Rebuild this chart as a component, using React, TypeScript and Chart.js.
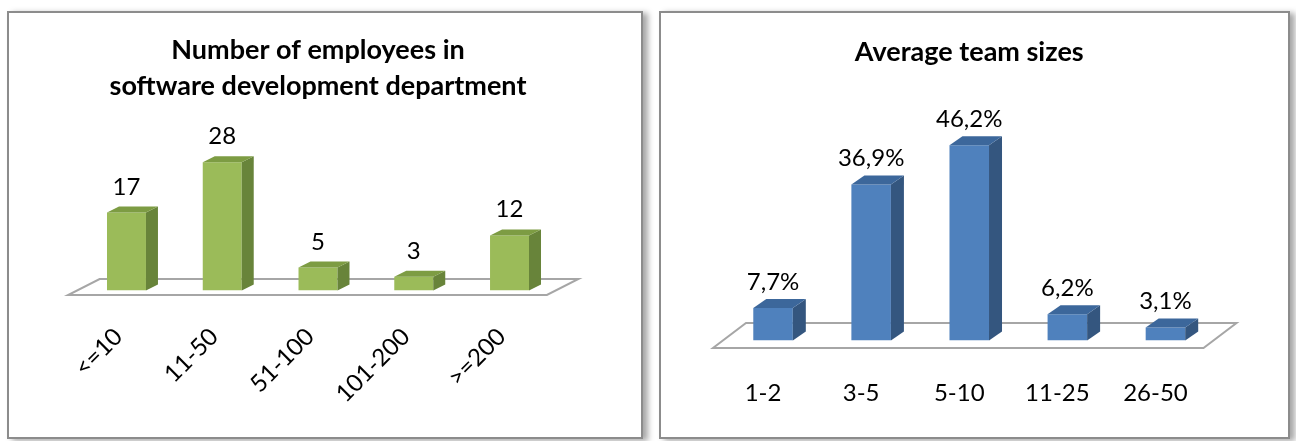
import React, { useEffect, useRef } from 'react';
import { Chart, registerables } from 'chart.js';

Chart.register(...registerables);

// ---- data ----
const employeeTitle = ['Number of employees in', 'software development department'];
const employeeCategories = ['<=10', '11-50', '51-100', '101-200', '>=200'];
const employeeCounts = [17, 28, 5, 3, 12];

const teamTitle = 'Average team sizes';
const teamCategories = ['1-2', '3-5', '5-10', '11-25', '26-50'];
const teamShares = [7.7, 36.9, 46.2, 6.2, 3.1];

const FONT = 'Lato, "Open Sans", sans-serif';

type Cfg = {
  depthX: number;
  depthY: number;
  floorFrontDx: number;
  floorBackDx: number;
  floorFrontDy: number;
  floorBackDy: number;
  topColor: string;
  sideColor: string;
  labelGap: number;
  labelSize: number;
  format: (v: number) => string;
};

function makeBar3d(cfg: Cfg) {
  return {
    id: 'bar3d',
    beforeDatasetsDraw(chart: any) {
      const { ctx } = chart;
      const xs = chart.scales.x;
      const ys = chart.scales.y;
      const base = ys.getPixelForValue(0);
      ctx.save();
      ctx.beginPath();
      ctx.moveTo(xs.left + cfg.floorFrontDx, base + cfg.floorFrontDy);
      ctx.lineTo(xs.right + cfg.floorFrontDx, base + cfg.floorFrontDy);
      ctx.lineTo(xs.right + cfg.floorBackDx, base - cfg.floorBackDy);
      ctx.lineTo(xs.left + cfg.floorBackDx, base - cfg.floorBackDy);
      ctx.closePath();
      ctx.fillStyle = '#ffffff';
      ctx.fill();
      ctx.lineWidth = 2;
      ctx.strokeStyle = '#a6a6a6';
      ctx.stroke();
      ctx.restore();
    },
    afterDatasetsDraw(chart: any) {
      const { ctx } = chart;
      const meta = chart.getDatasetMeta(0);
      const data = chart.data.datasets[0].data as number[];
      ctx.save();
      meta.data.forEach((el: any, i: number) => {
        const { x, y, base, width } = el.getProps(['x', 'y', 'base', 'width'], true);
        const l = x - width / 2;
        const r = x + width / 2;
        const dx = cfg.depthX;
        const dy = cfg.depthY;
        ctx.fillStyle = cfg.sideColor;
        ctx.beginPath();
        ctx.moveTo(r, y);
        ctx.lineTo(r + dx, y - dy);
        ctx.lineTo(r + dx, base - dy);
        ctx.lineTo(r, base);
        ctx.closePath();
        ctx.fill();
        ctx.fillStyle = cfg.topColor;
        ctx.beginPath();
        ctx.moveTo(l, y);
        ctx.lineTo(l + dx, y - dy);
        ctx.lineTo(r + dx, y - dy);
        ctx.lineTo(r, y);
        ctx.closePath();
        ctx.fill();
        ctx.fillStyle = '#000000';
        ctx.font = `${cfg.labelSize}px ${FONT}`;
        ctx.textAlign = 'center';
        ctx.textBaseline = 'alphabetic';
        ctx.fillText(cfg.format(data[i]), x, y - dy - cfg.labelGap);
      });
      ctx.restore();
    },
  };
}

type PanelProps = {
  left: number;
  width: number;
  title: string | string[];
  labels: string[];
  values: number[];
  front: string;
  cfg: Cfg;
  padLeft: number;
  padRight: number;
  axisHeight: number;
  yMax: number;
  titlePadTop: number;
  rotation: number;
  tickPadding: number;
  labelOffset: number;
  catPct: number;
};

const PANEL_TOP = 11;
const PANEL_HEIGHT = 428;

function Panel(p: PanelProps) {
  const ref = useRef<HTMLCanvasElement | null>(null);
  useEffect(() => {
    if (!ref.current) return;
    const chart = new Chart(ref.current, {
      type: 'bar',
      data: {
        labels: p.labels,
        datasets: [
          {
            data: p.values,
            backgroundColor: p.front,
            borderWidth: 0,
            barPercentage: 1,
            categoryPercentage: p.catPct,
          },
        ],
      },
      options: {
        responsive: false,
        animation: false,
        layout: { padding: { left: p.padLeft, right: p.padRight, top: 0, bottom: 0 } },
        plugins: {
          legend: { display: false },
          tooltip: { enabled: false },
          title: {
            display: true,
            text: p.title,
            color: '#000000',
            font: { family: FONT, size: 27, weight: 'bold', lineHeight: 36 / 27 },
            padding: { top: p.titlePadTop, bottom: 10 },
          },
        },
        scales: {
          x: {
            grid: { display: false },
            border: { display: false },
            ticks: {
              color: '#000000',
              font: { family: FONT, size: 24 },
              minRotation: p.rotation,
              maxRotation: p.rotation,
              autoSkip: false,
              padding: p.tickPadding,
              labelOffset: p.labelOffset,
            },
            afterFit: (s: any) => {
              s.height = p.axisHeight;
            },
          },
          y: { display: false, min: 0, max: p.yMax },
        },
      },
      plugins: [makeBar3d(p.cfg)],
    } as any);
    return () => chart.destroy();
  }, []);
  return (
    <div
      style={{
        position: 'absolute',
        left: p.left,
        top: PANEL_TOP,
        width: p.width,
        height: PANEL_HEIGHT,
        boxSizing: 'border-box',
        border: '2px solid #8c8c8c',
        background: '#ffffff',
        boxShadow: '5px 2px 6px rgba(0,0,0,0.35)',
      }}
    >
      <canvas ref={ref} width={p.width - 4} height={PANEL_HEIGHT - 4} style={{ display: 'block' }} />
    </div>
  );
}

export default function App() {
  return (
    <div style={{ position: 'absolute', left: 0, top: 0, width: 1296, height: 441, background: '#ffffff' }}>
      <Panel
        left={7}
        width={636}
        title={employeeTitle}
        labels={employeeCategories}
        values={employeeCounts}
        front="#9bbb59"
        cfg={{
          depthX: 12,
          depthY: 6,
          floorFrontDx: -10.5,
          floorBackDx: 21,
          floorFrontDy: 4.5,
          floorBackDy: 11.5,
          topColor: '#7d9c43',
          sideColor: '#68843a',
          labelGap: 12,
          labelSize: 24,
          format: (v) => String(v),
        }}
        padLeft={69.6}
        padRight={83.6}
        axisHeight={146.5}
        yMax={38.5}
        titlePadTop={19}
        rotation={45}
        tickPadding={24}
        labelOffset={-8}
        catPct={0.407}
      />
      <Panel
        left={659}
        width={631}
        title={teamTitle}
        labels={teamCategories}
        values={teamShares}
        front="#4f81bd"
        cfg={{
          depthX: 13,
          depthY: 9,
          floorFrontDx: -11,
          floorBackDx: 22,
          floorFrontDy: 7.5,
          floorBackDy: 17.5,
          topColor: '#3c679b',
          sideColor: '#34567f',
          labelGap: 9,
          labelSize: 24,
          format: (v) => v.toFixed(1).replace('.', ',') + '%',
        }}
        padLeft={63}
        padRight={73.5}
        axisHeight={96.5}
        yMax={61.6}
        titlePadTop={21}
        rotation={0}
        tickPadding={30}
        labelOffset={-10}
        catPct={0.403}
      />
    </div>
  );
}
